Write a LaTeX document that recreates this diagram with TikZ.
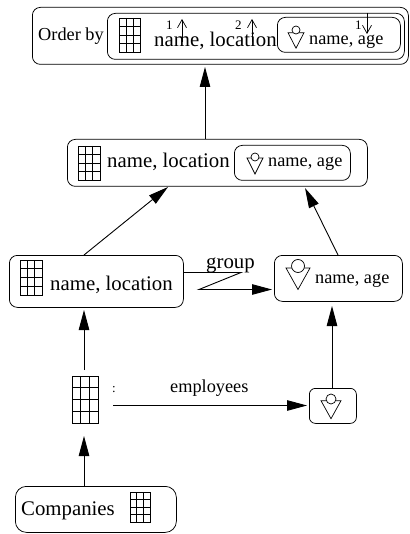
\documentclass[tikz,border=0pt]{standalone}
\usepackage{fontspec}
\setmainfont{Liberation Serif}
\usetikzlibrary{arrows.meta}
\tikzset{
  x=1pt,y=-1pt,
  rbox/.style={draw,rounded corners=#1,line width=0.75pt,inner sep=0pt},
  rbox/.default=8pt,
  lbl/.style={inner sep=0pt,anchor=base west},
  arr/.style={line width=0.9pt,-{Triangle[length=20pt,width=10.5pt]}},
  thin arr/.style={line width=0.7pt,-{Straight Barb[length=8pt,width=9pt]}},
  gridtab/.style={line width=0.65pt},
  fig/.style={line width=0.7pt},
  big/.style={font=\fontsize{20.8}{21}\selectfont},
  mid/.style={font=\fontsize{18.3}{19}\selectfont},
  tiny/.style={font=\fontsize{13}{14}\selectfont},
}
\newcommand{\tabicon}[4]{% x1 y1 x2 y2
  \draw[gridtab] (#1,#2) rectangle (#3,#4);
  \foreach \i in {1,2}{\draw[gridtab] ({#1+(#3-#1)*\i/3},#2) -- ({#1+(#3-#1)*\i/3},#4);}
  \foreach \j in {1,2,3}{\draw[gridtab] (#1,{#2+(#4-#2)*\j/4}) -- (#3,{#2+(#4-#2)*\j/4});}
}
\newcommand{\personicon}[6]{% cx, top y, half width, height, circle y, radius
  \draw[fig] ({#1-#3},#2) -- ({#1+#3},#2) -- (#1,{#2+#4}) -- cycle;
  \draw[fig,fill=white] (#1,#5) circle (#6);
}
\newcommand{\rrect}[6][8pt]{% name x1 y1 x2 y2
  \node[rbox=#1,minimum width={(#5-#3)*1pt},minimum height={(#6-#4)*1pt},anchor=north west] (#2) at (#3,#4) {};
}
\begin{document}
\begin{tikzpicture}
\useasboundingbox (0,0) rectangle (409,534);
% boxes
\rrect{top}{32}{7}{408}{64}
\rrect{topin}{107}{13}{404}{59}
\rrect{topage}{277}{17}{400}{52}
\rrect{midb}{67}{139}{367}{186}
\rrect{midage}{234}{145}{350}{180}
\rrect{left}{9}{255}{183}{307}
\rrect{right}{274}{255}{402}{301}
\rrect[6pt]{small}{309}{388}{356}{423}
\rrect[11pt]{comp}{15}{486}{176}{532}
% tables
\tabicon{119}{18}{140}{52}
\tabicon{78}{146}{100}{180}
\tabicon{20}{260}{42}{295}
\tabicon{72}{376}{98}{423}
\tabicon{130}{492}{150}{522}
% person icons
\personicon{296}{32.7}{8}{15.5}{30}{4}
\personicon{255}{158}{8}{16}{157}{4}
\personicon{298}{268}{12}{21.5}{266}{6.5}
\personicon{331}{400.7}{10}{18}{399}{5}
% text
\node[lbl,mid] (t1) at (38,41) {Order by};
\node[lbl,big] (t2) at (154,47) {name, location};
\node[lbl,mid] (t3) at (309,45) {name, age};
\node[lbl,big] (t4) at (107,168) {name, location};
\node[lbl,mid] (t5) at (268,167) {name, age};
\node[lbl,big] (t6) at (50,290) {name, location};
\node[lbl,mid] (t7) at (315,283) {name, age};
\node[lbl,big] (t8) at (21,515) {Companies};
\node[lbl,big] (t9) at (206,268) {group};
\node[lbl,mid] (t10) at (170,392) {employees};
\node[lbl,tiny] (t11) at (112,392) {:};
\node[lbl,tiny] (n1) at (166,30) {1};
\node[lbl,tiny] (n2) at (235,30) {2};
\node[lbl,tiny] (n3) at (355,30) {1};
% small order arrows
\coordinate (a1s) at (182,42); \coordinate (a1e) at (182,19);
\coordinate (a2s) at (252,42); \coordinate (a2e) at (252,19);
\coordinate (a3e) at (367,34);
\draw[thin arr] (a1s) -- (a1e);
\draw[thin arr] (a2s) -- (a2e);
\draw[thin arr] (topin.north -| a3e) -- (a3e);
% connectors
\coordinate (c1) at (205,67);
\draw[arr] (midb.north -| c1) -- (c1);
\coordinate (c2s) at (84,255); \coordinate (c2e) at (168,187);
\draw[arr] (c2s) -- (c2e);
\coordinate (c3s) at (338,255); \coordinate (c3e) at (305,188);
\draw[arr] (c3s) -- (c3e);
\coordinate (c4s) at (84,370); \coordinate (c4e) at (84,310);
\draw[arr] (c4s) -- (c4e);
\coordinate (c5e) at (84,436);
\draw[arr] (comp.north -| c5e) -- (c5e);
\coordinate (c6e) at (332,306);
\draw[arr] (small.north -| c6e) -- (c6e);
\coordinate (c7s) at (113,405.5); \coordinate (c7e) at (307,405.5);
\draw[arr] (c7s) -- (c7e);
\coordinate (g1) at (183,272.5); \coordinate (g2) at (241,272.5); \coordinate (g3) at (199,289.5); \coordinate (g4) at (272,289.5);
\draw[arr,line join=miter] (g1) -- (g2) -- (g3) -- (g4);
\end{tikzpicture}
\end{document}
